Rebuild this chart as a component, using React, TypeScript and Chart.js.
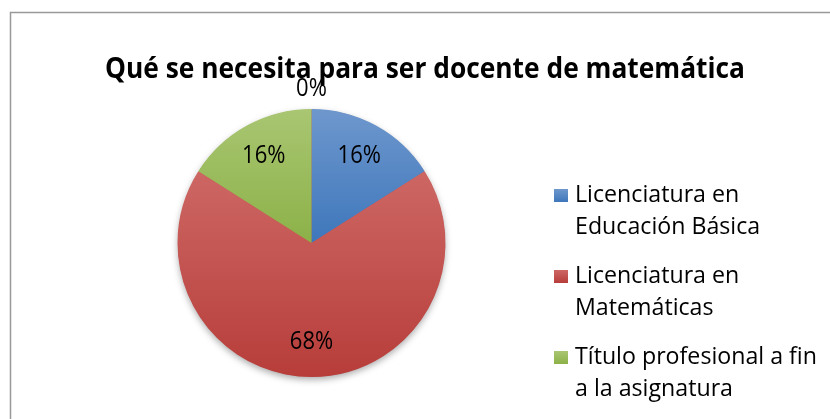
import React, { useEffect, useRef } from "react";
import { Chart, registerables } from "chart.js";

Chart.register(...registerables);

const title = "Qué se necesita para ser docente de matemática";
const categories = [
  "Licenciatura en Educación Básica",
  "Licenciatura en Matemáticas",
  "Título profesional a fin a la asignatura",
  "",
];
const counts = [4, 17, 4, 0];
const colorsTop = ["#6e97cd", "#cd6764", "#a9c672", ""];
const colorsBottom = ["#3e77bb", "#b73d3a", "#8cb148", ""];
const baseColors = ["#4f81bd", "#c0504d", "#9bbb59", "#8064a2"];

const FONT = "'Open Sans', 'Noto Sans', sans-serif";

function drawScaled(
  ctx: CanvasRenderingContext2D,
  text: string,
  x: number,
  y: number,
  sx: number,
  align: "left" | "center"
) {
  ctx.save();
  ctx.translate(x, y);
  ctx.scale(sx, 1);
  ctx.textAlign = align;
  ctx.fillText(text, 0, 0);
  ctx.restore();
}

function sliceYRange(i: number, cy: number, r: number) {
  const total = counts.reduce((a, b) => a + b, 0);
  let before = 0;
  for (let k = 0; k < i; k++) before += counts[k];
  const a0 = -Math.PI / 2 + (before / total) * Math.PI * 2;
  const a1 = a0 + (counts[i] / total) * Math.PI * 2;
  const ys = [cy, cy + r * Math.sin(a0), cy + r * Math.sin(a1)];
  const crosses = (t: number) => {
    for (let n = -1; n <= 2; n++) {
      const v = t + n * 2 * Math.PI;
      if (v >= a0 && v <= a1) return true;
    }
    return false;
  };
  if (crosses(-Math.PI / 2)) ys.push(cy - r);
  if (crosses(Math.PI / 2)) ys.push(cy + r);
  return [Math.min(...ys), Math.max(...ys)];
}

const decorPlugin = {
  id: "decor",
  beforeDatasetsDraw(chart: any) {
    const ctx = chart.ctx as CanvasRenderingContext2D;
    const meta = chart.getDatasetMeta(0);
    const arc = meta.data[0];
    if (!arc) return;
    ctx.save();
    ctx.shadowColor = "rgba(0,0,0,0.35)";
    ctx.shadowBlur = 7;
    ctx.shadowOffsetY = 3;
    ctx.fillStyle = "#c0504d";
    ctx.beginPath();
    ctx.arc(arc.x, arc.y, arc.outerRadius - 0.5, 0, Math.PI * 2);
    ctx.fill();
    ctx.restore();
  },
  afterDraw(chart: any) {
    const ctx = chart.ctx as CanvasRenderingContext2D;
    // border
    ctx.save();
    ctx.strokeStyle = "#999999";
    ctx.lineWidth = 1.5;
    ctx.strokeRect(10.5, 12.5, 900, 500);
    ctx.restore();

    // title
    ctx.save();
    ctx.fillStyle = "#000";
    ctx.textBaseline = "alphabetic";
    ctx.font = `bold 28px ${FONT}`;
    const tw = ctx.measureText(title).width;
    const tsx = 640 / tw;
    drawScaled(ctx, title, 425, 78, tsx, "center");
    ctx.restore();

    // data labels
    const meta = chart.getDatasetMeta(0);
    const total = counts.reduce((a, b) => a + b, 0);
    ctx.save();
    ctx.fillStyle = "#000";
    ctx.font = `25px ${FONT}`;
    ctx.textBaseline = "middle";
    meta.data.forEach((el: any, i: number) => {
      const pct = Math.round((counts[i] / total) * 100) + "%";
      const mid = (el.startAngle + el.endAngle) / 2;
      const dist = counts[i] === 0 ? el.outerRadius + 20 : el.outerRadius * 0.74;
      const x = el.x + Math.cos(mid) * dist;
      const y = el.y + Math.sin(mid) * dist;
      drawScaled(ctx, pct, x, y, 0.88, "center");
    });
    ctx.restore();

    // legend
    ctx.save();
    ctx.font = `23px ${FONT}`;
    ctx.textBaseline = "alphabetic";
    const refW = ctx.measureText("Título profesional a fin").width;
    const lsx = 242 / refW;
    const maxW = 250;
    let baseY = 202;
    categories.forEach((cat, i) => {
      if (!cat) return;
      const words = cat.split(" ");
      const lines: string[] = [];
      let cur = "";
      words.forEach((w) => {
        const t = cur ? cur + " " + w : w;
        if (ctx.measureText(t).width * lsx > maxW && cur) {
          lines.push(cur);
          cur = w;
        } else cur = t;
      });
      if (cur) lines.push(cur);
      const grad = ctx.createLinearGradient(0, baseY - 13, 0, baseY);
      grad.addColorStop(0, colorsTop[i]);
      grad.addColorStop(1, colorsBottom[i]);
      ctx.fillStyle = grad;
      ctx.fillRect(554, baseY - 13, 14, 13);
      ctx.fillStyle = "#000";
      lines.forEach((ln, k) => drawScaled(ctx, ln, 575, baseY + k * 32, lsx, "left"));
      baseY += 81 + (lines.length - 2) * 32;
    });
    ctx.restore();
  },
};

export default function App() {
  const ref = useRef<HTMLCanvasElement>(null);
  useEffect(() => {
    if (!ref.current) return;
    const chart = new Chart(ref.current, {
      type: "pie",
      data: {
        labels: categories,
        datasets: [
          {
            data: counts,
            borderWidth: 0,
            backgroundColor: (c: any) => {
              const i = c.dataIndex;
              const ca = c.chart.chartArea;
              if (!ca || !colorsTop[i]) return baseColors[i];
              const cy = (ca.top + ca.bottom) / 2;
              const r = Math.min(ca.right - ca.left, ca.bottom - ca.top) / 2;
              const [y0, y1] = sliceYRange(i, cy, r);
              const g = c.chart.ctx.createLinearGradient(0, y0, 0, y1);
              g.addColorStop(0, colorsTop[i]);
              g.addColorStop(1, colorsBottom[i]);
              return g;
            },
          },
        ],
      },
      options: {
        responsive: false,
        animation: false,
        layout: { padding: { left: 177, right: 384, top: 109, bottom: 42 } },
        plugins: {
          legend: { display: false },
          title: { display: false },
          tooltip: { enabled: false },
        },
      },
      plugins: [decorPlugin],
    });
    return () => chart.destroy();
  }, []);
  return (
    <div style={{ position: "absolute", left: 0, top: 0, width: 830, height: 419, background: "#fff" }}>
      <canvas ref={ref} width={830} height={419} style={{ display: "block" }} />
    </div>
  );
}
